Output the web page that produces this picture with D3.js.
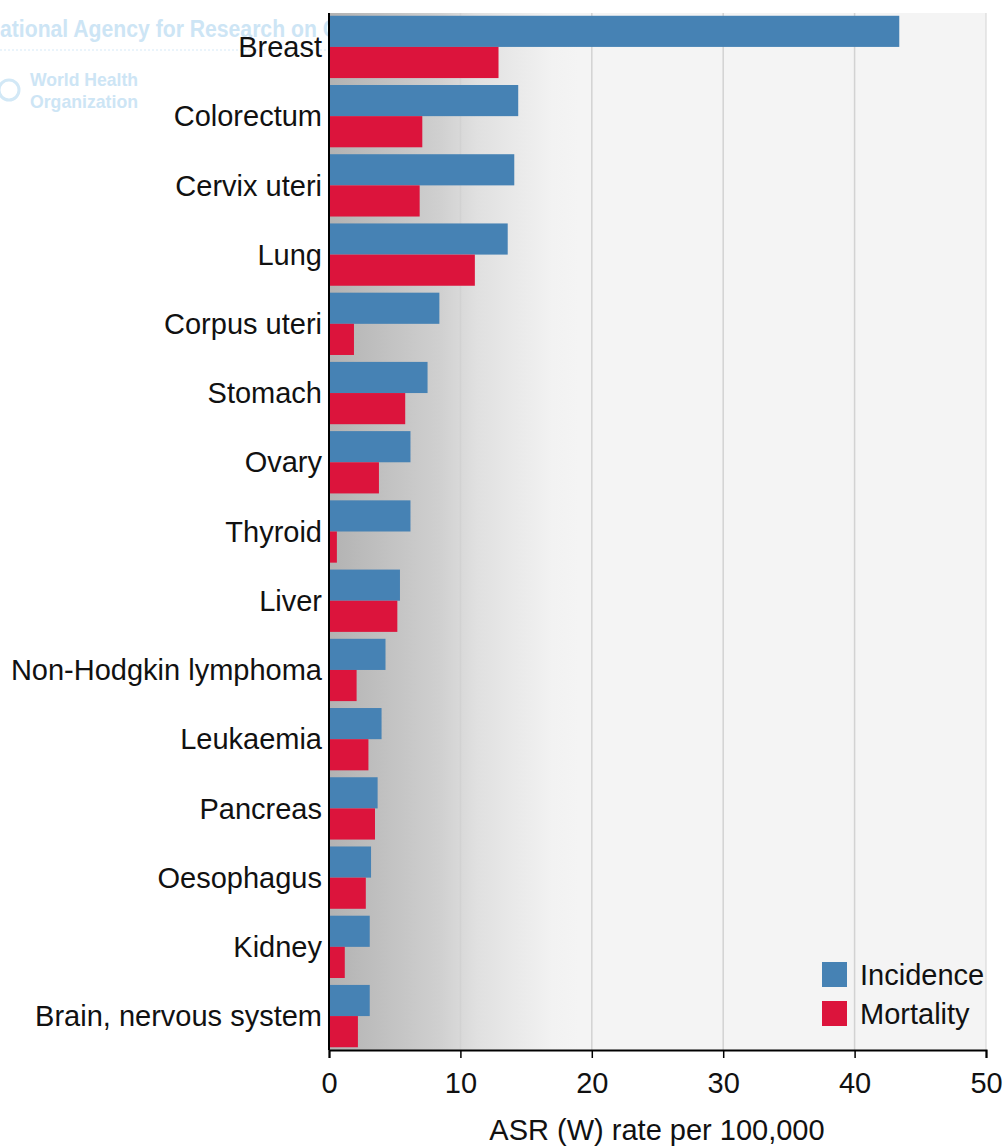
<!DOCTYPE html>
<html><head><meta charset="utf-8">
<script src="https://cdn.jsdelivr.net/npm/d3@7/dist/d3.min.js"></script>
<style>body{margin:0;background:#fff}svg{display:block}</style>
</head><body>
<svg id="c" width="1007" height="1146"></svg>
<script>
const categories = ["Breast","Colorectum","Cervix uteri","Lung","Corpus uteri","Stomach","Ovary","Thyroid","Liver","Non-Hodgkin lymphoma","Leukaemia","Pancreas","Oesophagus","Kidney","Brain, nervous system"];
const incidence = [43.4,14.4,14.1,13.6,8.4,7.5,6.2,6.2,5.4,4.3,4.0,3.7,3.2,3.1,3.1];
const mortality = [12.9,7.1,6.9,11.1,1.9,5.8,3.8,0.6,5.2,2.1,3.0,3.5,2.8,1.2,2.2];
const xTicks = [0,10,20,30,40,50];
const seriesNames = ["Incidence","Mortality"];
const colors = ["#4682b4","#dc143c"];

const svg = d3.select("#c");
const font = "'Liberation Sans', Arial, sans-serif";
const FS = 29;
const L = 329, R = 986, T = 13, B = 1050;

// watermark
const wm = svg.append("g").attr("fill","#cde5f5").attr("font-family",font);
wm.append("text").attr("x",0).attr("y",37).attr("font-size",23).attr("font-weight","bold").attr("textLength",338).attr("lengthAdjust","spacingAndGlyphs").text("ational Agency for Research on C");
svg.append("line").attr("x1",0).attr("x2",330).attr("y1",50).attr("y2",50).attr("stroke","#d6eaf7").attr("stroke-width",1.2).attr("stroke-dasharray","2,2");
wm.append("text").attr("x",30).attr("y",86).attr("font-size",19).attr("font-weight","bold").attr("textLength",108).attr("lengthAdjust","spacingAndGlyphs").text("World Health");
wm.append("text").attr("x",30).attr("y",108).attr("font-size",19).attr("font-weight","bold").attr("textLength",108).attr("lengthAdjust","spacingAndGlyphs").text("Organization");
wm.append("circle").attr("cx",9).attr("cy",90).attr("r",10).attr("fill","none").attr("stroke","#d2e8f6").attr("stroke-width",3);

const x = d3.scaleLinear().domain([0,50]).range([L,R]);
const y = d3.scaleBand().domain(categories).range([T,B]).paddingInner(0.1).paddingOuter(0.04);
const sub = d3.scaleBand().domain(seriesNames).range([0,y.bandwidth()]);

// background
const defs = svg.append("defs");
const g = defs.append("linearGradient").attr("id","bg").attr("x1","0").attr("x2","1").attr("y1","0").attr("y2","0");
[[0,"#b2b2b2"],[0.17,"#d0d0d0"],[0.225,"#e0e0e0"],[0.34,"#f2f2f2"],[0.38,"#f4f4f4"],[1,"#f4f4f4"]].forEach(s=>g.append("stop").attr("offset",s[0]).attr("stop-color",s[1]));
svg.append("rect").attr("x",L).attr("y",T).attr("width",R-L).attr("height",B-T).attr("fill","url(#bg)");
svg.append("line").attr("x1",R).attr("x2",R).attr("y1",T).attr("y2",B).attr("stroke","#d4d4d4");

// grid
svg.append("g").selectAll("line").data(xTicks.slice(1,-1)).join("line")
  .attr("x1",d=>x(d)).attr("x2",d=>x(d)).attr("y1",T).attr("y2",B).attr("stroke","#d2d2d2").attr("stroke-width",1.5);

// bars
const rows = categories.map((c,i)=>({c, vals:[incidence[i],mortality[i]]}));
const grp = svg.append("g").selectAll("g").data(rows).join("g").attr("transform",d=>`translate(0,${y(d.c)})`);
grp.selectAll("rect").data(d=>d.vals.map((v,j)=>({v,s:seriesNames[j],col:colors[j]}))).join("rect")
  .attr("x",x(0)).attr("y",d=>sub(d.s)).attr("width",d=>x(d.v)-x(0)).attr("height",sub.bandwidth())
  .attr("fill",d=>d.col);

// y axis labels
svg.append("g").selectAll("text").data(categories).join("text")
  .attr("x",322).attr("y",d=>y(d)+y.bandwidth()/2).attr("dy","0.35em").attr("text-anchor","end")
  .attr("font-family",font).attr("font-size",FS).attr("fill","#111").text(d=>d);
svg.append("line").attr("x1",L).attr("x2",L).attr("y1",T).attr("y2",B).attr("stroke","#000").attr("stroke-width",2);

// x axis
const xa = svg.append("g").attr("transform",`translate(0,${B})`).call(d3.axisBottom(x).tickValues(xTicks).tickSize(8).tickFormat(d3.format("d")));
xa.select(".domain").attr("stroke","#000").attr("stroke-width",2);
xa.selectAll(".tick line").attr("stroke","#000").attr("stroke-width",1.5);
xa.selectAll(".tick text").attr("font-family",font).attr("font-size",FS).attr("fill","#111").attr("y",22).attr("dy","0.71em");
svg.append("text").attr("x",657).attr("y",1140).attr("text-anchor","middle").attr("font-family",font).attr("font-size",FS).attr("fill","#111").text("ASR (W) rate per 100,000");

// legend
const lg = svg.append("g").selectAll("g").data(seriesNames).join("g").attr("transform",(d,i)=>`translate(822,${962+i*39})`);
lg.append("rect").attr("width",25).attr("height",25).attr("fill",(d,i)=>colors[i]);
lg.append("text").attr("x",38).attr("y",13).attr("dy","0.35em").attr("font-family",font).attr("font-size",FS).attr("fill","#111").text(d=>d);
</script>
</body></html>
